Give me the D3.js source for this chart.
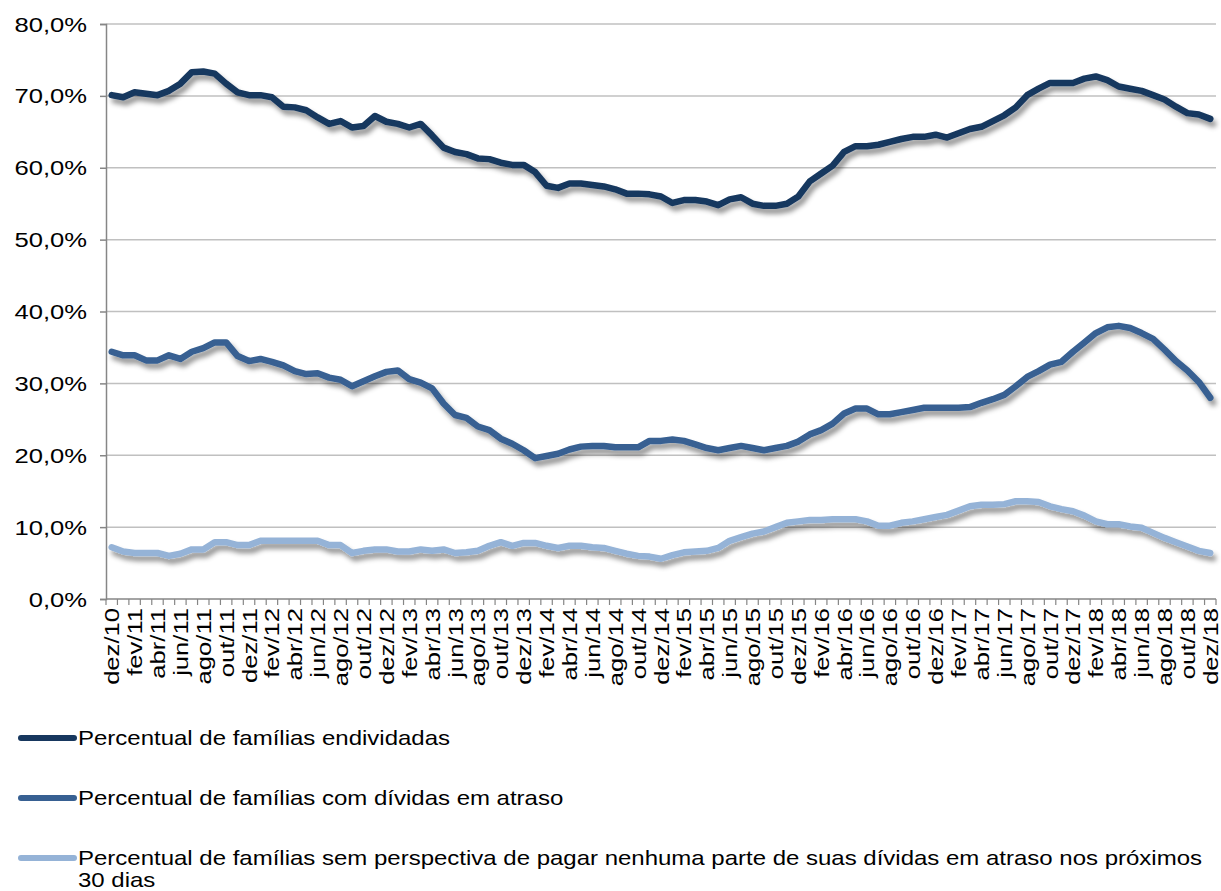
<!DOCTYPE html>
<html>
<head>
<meta charset="utf-8">
<script src="https://cdn.jsdelivr.net/npm/d3@7"></script>
<style>
  body { margin: 0; background: #fff; }
  svg { display: block; font-family: "Liberation Sans", Arial, sans-serif; }
</style>
</head>
<body>
<svg id="chart" width="1221" height="891"></svg>
<script>
// months dez/10 .. dez/18
var months = [
  "dez/10",
  "jan/11","fev/11","mar/11","abr/11","mai/11","jun/11","jul/11","ago/11","set/11","out/11","nov/11","dez/11",
  "jan/12","fev/12","mar/12","abr/12","mai/12","jun/12","jul/12","ago/12","set/12","out/12","nov/12","dez/12",
  "jan/13","fev/13","mar/13","abr/13","mai/13","jun/13","jul/13","ago/13","set/13","out/13","nov/13","dez/13",
  "jan/14","fev/14","mar/14","abr/14","mai/14","jun/14","jul/14","ago/14","set/14","out/14","nov/14","dez/14",
  "jan/15","fev/15","mar/15","abr/15","mai/15","jun/15","jul/15","ago/15","set/15","out/15","nov/15","dez/15",
  "jan/16","fev/16","mar/16","abr/16","mai/16","jun/16","jul/16","ago/16","set/16","out/16","nov/16","dez/16",
  "jan/17","fev/17","mar/17","abr/17","mai/17","jun/17","jul/17","ago/17","set/17","out/17","nov/17","dez/17",
  "jan/18","fev/18","mar/18","abr/18","mai/18","jun/18","jul/18","ago/18","set/18","out/18","nov/18","dez/18"
];

var endividadas = [
  70.1,69.8,70.5,70.3,70.1,70.7,71.7,73.3,73.4,73.1,71.7,70.5,70.1,
  70.1,69.8,68.5,68.4,68.0,67.0,66.1,66.5,65.6,65.8,67.2,66.4,
  66.1,65.6,66.1,64.5,62.8,62.2,61.9,61.3,61.2,60.7,60.4,60.4,
  59.4,57.5,57.2,57.8,57.8,57.6,57.4,57.0,56.4,56.4,56.3,56.0,
  55.1,55.5,55.5,55.3,54.8,55.6,55.9,55.0,54.7,54.7,55.0,56.0,
  58.1,59.2,60.3,62.2,63.0,63.0,63.2,63.6,64.0,64.3,64.3,64.6,
  64.2,64.8,65.4,65.7,66.5,67.3,68.4,70.1,71.0,71.8,71.8,71.8,
  72.4,72.7,72.2,71.3,71.0,70.7,70.1,69.5,68.5,67.6,67.4,66.8
];

var emAtraso = [
  34.4,33.9,33.9,33.2,33.2,33.9,33.4,34.4,34.9,35.7,35.7,33.8,33.1,
  33.4,33.0,32.5,31.7,31.3,31.4,30.8,30.5,29.6,30.3,31.0,31.6,
  31.8,30.6,30.1,29.3,27.2,25.6,25.2,24.0,23.5,22.3,21.6,20.7,
  19.6,19.9,20.2,20.8,21.2,21.3,21.3,21.1,21.1,21.1,22.0,22.0,
  22.2,22.0,21.5,21.0,20.7,21.0,21.3,21.0,20.7,21.0,21.3,21.9,
  22.9,23.5,24.4,25.8,26.5,26.5,25.7,25.7,26.0,26.3,26.6,26.6,
  26.6,26.6,26.7,27.3,27.8,28.4,29.6,30.9,31.7,32.6,33.0,34.4,
  35.7,37.0,37.8,38.0,37.7,37.0,36.2,34.7,33.1,31.8,30.2,28.0
];

var semPerspectiva = [
  7.2,6.6,6.4,6.4,6.4,6.0,6.3,6.9,6.9,7.9,7.9,7.5,7.5,
  8.1,8.1,8.1,8.1,8.1,8.1,7.5,7.5,6.4,6.7,6.9,6.9,
  6.6,6.6,6.9,6.7,6.9,6.4,6.5,6.7,7.4,7.9,7.4,7.8,
  7.8,7.4,7.1,7.4,7.4,7.2,7.1,6.7,6.3,6.0,5.9,5.6,
  6.1,6.5,6.6,6.7,7.1,8.1,8.6,9.1,9.4,10.0,10.6,10.8,
  11.0,11.0,11.1,11.1,11.1,10.8,10.2,10.2,10.6,10.8,11.1,11.4,
  11.7,12.3,12.9,13.1,13.1,13.2,13.6,13.6,13.5,12.9,12.5,12.2,
  11.6,10.8,10.4,10.4,10.1,9.9,9.2,8.5,7.9,7.3,6.7,6.4
];

var yTicks = [0, 10, 20, 30, 40, 50, 60, 70, 80];

var seriesNames = [
  "Percentual de famílias endividadas",
  "Percentual de famílias com dívidas em atraso",
  "Percentual de famílias sem perspectiva de pagar nenhuma parte de suas dívidas em atraso nos próximos 30 dias"
];
var seriesColors = ["#17375e", "#376092", "#95b3d7"];
var seriesData = [endividadas, emAtraso, semPerspectiva];

var svg = d3.select("#chart");
var stretch = 1.2; // the original text is a bit wider than plain Arial
var axisStretch = 1.22;

var defs = svg.append("defs");
var f = defs.append("filter").attr("id", "shadow")
  .attr("x", "-5%").attr("y", "-20%").attr("width", "110%").attr("height", "140%");
f.append("feDropShadow").attr("dx", 3).attr("dy", 5).attr("stdDeviation", 2.7)
  .attr("flood-color", "#000").attr("flood-opacity", 0.42);

var x = d3.scaleBand().domain(d3.range(months.length)).range([106, 1216]).padding(0);
var y = d3.scaleLinear().domain([0, 80]).range([599, 24]);
var cx = function(i) { return x(i) + x.bandwidth() / 2; };

// gridlines
svg.append("g").selectAll("line").data(yTicks.filter(function(d) { return d > 0; }))
  .enter().append("line")
  .attr("x1", 106).attr("x2", 1216)
  .attr("y1", function(d) { return y(d); }).attr("y2", function(d) { return y(d); })
  .attr("stroke", "#c0c0c0").attr("stroke-width", 1.5);

// y axis
var yAxis = svg.append("g").attr("transform", "translate(106,0)")
  .call(d3.axisLeft(y).tickValues(yTicks).tickSize(6).tickFormat(""));
yAxis.select(".domain").attr("stroke", "#868686").attr("stroke-width", 1.5);
yAxis.selectAll(".tick line").attr("stroke", "#868686").attr("stroke-width", 1.5);

svg.append("g").selectAll("text").data(yTicks).enter().append("text")
  .attr("transform", function(d) { return "translate(87," + (y(d) + 7.5) + ") scale(" + axisStretch + ",1)"; })
  .attr("text-anchor", "end")
  .attr("font-size", 21).attr("fill", "#000")
  .text(function(d) { return d.toFixed(1).replace(".", ",") + "%"; });

// x axis
var xg = svg.append("g");
xg.append("line").attr("x1", 106).attr("x2", 1216).attr("y1", y(0)).attr("y2", y(0))
  .attr("stroke", "#868686").attr("stroke-width", 1.5);
xg.selectAll(".xt").data(d3.range(months.length + 1)).enter().append("line")
  .attr("class", "xt")
  .attr("x1", function(i) { return i < months.length ? x(i) : 1216; })
  .attr("x2", function(i) { return i < months.length ? x(i) : 1216; })
  .attr("y1", y(0)).attr("y2", y(0) + 6)
  .attr("stroke", "#868686").attr("stroke-width", 1.2);
xg.selectAll(".xl").data(months.filter(function(m, i) { return i % 2 === 0; }))
  .enter().append("text")
  .attr("class", "xl")
  .attr("transform", function(m) {
    var i = months.indexOf(m);
    return "translate(" + (cx(i) + 7.5) + "," + (y(0) + 9) + ") rotate(-90) scale(" + axisStretch + ",1)";
  })
  .attr("text-anchor", "end")
  .attr("font-size", 21).attr("fill", "#000")
  .text(function(m) { return m; });

// lines
var line = d3.line()
  .x(function(d, i) { return cx(i); })
  .y(function(d) { return y(d); });

svg.append("g").attr("filter", "url(#shadow)")
  .selectAll("path").data(seriesData).enter().append("path")
  .attr("d", line)
  .attr("fill", "none")
  .attr("stroke", function(d, i) { return seriesColors[i]; })
  .attr("stroke-width", 6.5)
  .attr("stroke-linejoin", "round")
  .attr("stroke-linecap", "round");

// legend
var legendY = [738, 798, 858];
var lg = svg.append("g").selectAll("g").data(seriesNames).enter().append("g")
  .attr("transform", function(d, i) { return "translate(0," + legendY[i] + ")"; });
lg.append("line").attr("x1", 21).attr("x2", 74).attr("y1", 0).attr("y2", 0)
  .attr("stroke", function(d, i) { return seriesColors[i]; })
  .attr("stroke-width", 6).attr("stroke-linecap", "round");
lg.each(function(d, i) {
  var t = d3.select(this).append("text")
    .attr("transform", "translate(78,7) scale(" + stretch + ",1)")
    .attr("font-size", 20).attr("fill", "#000");
  if (i === 2) {
    var cut = d.lastIndexOf(" 30 dias");
    t.append("tspan").attr("x", 0).attr("dy", 0).text(d.slice(0, cut));
    t.append("tspan").attr("x", 0).attr("dy", 22).text(d.slice(cut + 1));
  } else {
    t.text(d);
  }
});
</script>
</body>
</html>
